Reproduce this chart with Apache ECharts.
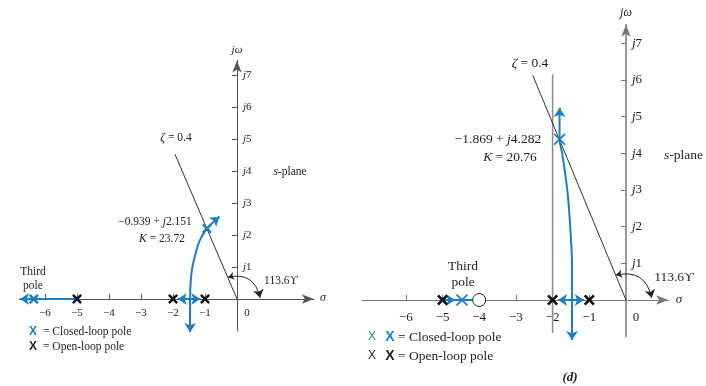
<!DOCTYPE html>
<html>
<head>
<meta charset="utf-8">
<script src="https://cdn.jsdelivr.net/npm/echarts@6/dist/echarts.min.js"></script>
<style>
  html, body { margin: 0; padding: 0; background: #fff; }
  #main { width: 706px; height: 386px; }
</style>
</head>
<body>
<div id="main"></div>
<script>
// ---- data (s-plane units) ----
const xTicks = [-6, -5, -4, -3, -2, -1]
const xLabels = [-6, -5, -4, -3, -2, -1, 0]
const yTicks = [1, 2, 3, 4, 5, 6, 7]

// left plot: poles at -1, -2, -5
const leftOpenPoles = [[-5, 0], [-2, 0], [-1, 0]]
const leftClosedPoles = [[-6.35, 0], [-0.94, 2.2]]
const leftZeta = [[0, 0], [-1.94, 4.53]]
const leftUpper = [[-1.465, 0], [-1.46, 0.3], [-1.41, 0.9], [-1.3, 1.4], [-1.16, 1.84], [-0.94, 2.2], [-0.72, 2.42], [-0.55, 2.57]]
const leftRealAxis = [[-1.85, 0], [-1.15, 0]]
const leftArrows = [
  [[-0.6, 2.53], [-0.55, 2.57]],
  [[-1.465, 0], [-1.465, -1.03]],
  [[-5, 0], [-6.78, 0]],
  [[-1.465, 0], [-1.85, 0]],
  [[-1.465, 0], [-1.15, 0]]
]
const leftAngle = [[-0.28, 0.68], [0.72, 0.04]]

// right plot: poles at -1, -2, -5, zero at -4
const rightOpenPoles = [[-5, 0], [-2, 0], [-1, 0]]
const rightZeros = [[-4, 0]]
const rightClosedPoles = [[-4.47, 0], [-1.81, 4.38]]
const rightZeta = [[0, 0], [-2.54, 6.12]]
const rightAsymptote = [[-2, -0.9], [-2, 6.15]]
const rightUpper = [[-1.47, 0], [-1.47, 0.9], [-1.52, 2], [-1.6, 3], [-1.74, 4], [-1.81, 4.38], [-1.81, 5.23]]
const rightRealAxis = [[-5, 0], [-4.18, 0]]
const rightRealAxis2 = [[-1.85, 0], [-1.15, 0]]
const rightArrows = [
  [[-1.81, 5.1], [-1.81, 5.23]],
  [[-1.47, 0], [-1.47, -1.09]],
  [[-4.95, 0], [-4.66, 0]],
  [[-1.47, 0], [-1.85, 0]],
  [[-1.47, 0], [-1.15, 0]]
]
const rightAngle = [[-0.27, 0.68], [0.7, 0.06]]

// ---- look ----
const BLUE = '#1b7fc4'
const INK = '#222'
const SERIF = '"Liberation Serif", "DejaVu Serif", serif'
const SANS = '"Liberation Sans", Arial, sans-serif'
const XBOLD = 'path://M0,1.7L1.7,0L5,3.3L8.3,0L10,1.7L6.7,5L10,8.3L8.3,10L5,6.7L1.7,10L0,8.3L3.3,5Z'
const XTHIN = 'path://M0,1L1,0L5,4L9,0L10,1L6,5L10,9L9,10L5,6L1,10L0,9L4,5Z'

// grid geometry: origin pixel + px per unit
const plots = [
  { ox: 237, oy: 299, k: 32, xMin: -6.8, xMax: 2.4, yMin: -1, yMax: 7.45, font: 11, margin: 9, axis: '#555' },
  { ox: 626, oy: 300, k: 36.7, xMin: -7.2, xMax: 1.15, yMin: -1, yMax: 7.5, font: 13, margin: 11, axis: '#777' }
]

const grids = plots.map(p => ({
  left: p.ox + p.xMin * p.k,
  width: (p.xMax - p.xMin) * p.k,
  top: p.oy - p.yMax * p.k,
  height: (p.yMax - p.yMin) * p.k,
  outerBoundsMode: 'none'
}))

// axes are shifted onto the origin with offset so labels follow the line
const xAxes = plots.map((p, i) => ({
  type: 'value', gridIndex: i, min: p.xMin, max: p.xMax,
  position: 'bottom', offset: p.yMin * p.k,
  splitLine: { show: false },
  axisLine: { onZero: false, symbol: ['none', 'arrow'], symbolSize: [7, 12], lineStyle: { color: p.axis, width: 1 } },
  axisTick: { inside: true, length: 5, customValues: xTicks, lineStyle: { color: p.axis } },
  axisLabel: {
    customValues: xLabels, margin: p.margin, color: INK, fontFamily: SERIF, fontSize: p.font,
    formatter: v => v === 0 ? '{z|0}' : '\u2212' + Math.abs(v),
    rich: { z: { padding: [0, 0, 0, 20], color: INK, fontFamily: SERIF, fontSize: p.font } }
  }
}))

const yAxes = plots.map((p, i) => ({
  type: 'value', gridIndex: i, min: p.yMin, max: p.yMax,
  position: 'left', offset: p.xMin * p.k,
  splitLine: { show: false },
  axisLine: { onZero: false, symbol: ['none', 'arrow'], symbolSize: [7, 12], lineStyle: { color: p.axis, width: i ? 1.5 : 1 } },
  axisTick: { length: 5, customValues: yTicks, lineStyle: { color: p.axis } },
  axisLabel: {
    inside: true, customValues: yTicks, margin: 6, color: INK, fontFamily: SERIF, fontSize: p.font,
    formatter: v => '{i|j}' + v,
    rich: { i: { fontStyle: 'italic', color: INK, fontFamily: SERIF, fontSize: p.font } }
  }
}))

function line(i, data, color, width, smooth) {
  return {
    type: 'line', xAxisIndex: i, yAxisIndex: i, data: data, symbol: 'none', silent: true,
    smooth: smooth || false, clip: false, lineStyle: { color: color, width: width }, z: 3
  }
}
function arrows(i, pairs, color, width, size, curveness, both) {
  return {
    type: 'lines', coordinateSystem: 'cartesian2d', xAxisIndex: i, yAxisIndex: i, silent: true, clip: false,
    symbol: [both ? 'arrow' : 'none', 'arrow'], symbolSize: size,
    lineStyle: { color: color, width: width, opacity: 1, curveness: curveness || 0 },
    data: pairs.map(c => ({ coords: c })), z: 4
  }
}
function marks(i, data, symbol, size, color, extra) {
  return Object.assign({
    type: 'scatter', xAxisIndex: i, yAxisIndex: i, data: data, symbol: symbol, symbolSize: size,
    silent: true, clip: false, itemStyle: { color: color, opacity: 1 }, z: 5
  }, extra || {})
}

const series = [
  line(0, leftZeta, '#333', 1),
  line(0, leftRealAxis, BLUE, 2),
  line(0, leftUpper, BLUE, 2, 0.35),
  arrows(0, leftArrows, BLUE, 2, [7, 9]),
  arrows(0, [leftAngle], INK, 1, [6, 8], 0.5, true),
  marks(0, leftOpenPoles, XBOLD, 10, '#111'),
  marks(0, leftClosedPoles, XBOLD, 10, BLUE),

  line(1, rightAsymptote, '#8a8a8a', 1.5),
  line(1, rightZeta, '#333', 1),
  line(1, rightRealAxis, BLUE, 2),
  line(1, rightRealAxis2, BLUE, 2),
  line(1, rightUpper, BLUE, 2, 0.3),
  arrows(1, rightArrows, BLUE, 2, [7, 9]),
  arrows(1, [rightAngle], INK, 1, [6, 8], 0.5, true),
  marks(1, rightZeros, 'circle', 13, '#fff', { itemStyle: { color: '#fff', borderColor: INK, borderWidth: 1, opacity: 1 } }),
  marks(1, rightOpenPoles, XBOLD, 11, '#111'),
  marks(1, rightClosedPoles, XTHIN, 12, BLUE)
]

// ---- annotation text ----
function txt(x, y, text, size, extra) {
  const fill = (extra && extra.fill) || INK
  return {
    type: 'text', x: x, y: y, silent: true, z: 10,
    style: Object.assign({
      text: text, fontFamily: SERIF, fontSize: size, fill: fill,
      align: 'center', verticalAlign: 'middle',
      rich: {
        i: { fontStyle: 'italic', fontFamily: SERIF, fontSize: size, fill: fill },
        b: { fontStyle: 'italic', fontWeight: 'bold', fontFamily: SERIF, fontSize: size, fill: fill }
      }
    }, extra || {})
  }
}

const graphic = [
  // left
  txt(237, 50, '{i|j\u03c9}', 11),
  txt(323, 298, '{i|\u03c3}', 12),
  txt(176, 138, '{i|\u03b6} = 0.4', 11.5),
  txt(155, 222, '\u22120.939 + {i|j}2.151', 11.5),
  txt(162, 239, '{i|K} = 23.72', 11.5),
  txt(290, 172, '{i|s}-plane', 11.5),
  txt(281, 281, '113.6\u03d2', 11.5),
  txt(33, 272, 'Third', 11.5),
  txt(33, 286, 'pole', 11.5),
  txt(33, 332, 'X', 12, { fontFamily: SANS, fontWeight: 'bold', fill: BLUE }),
  txt(43, 332, '= Closed-loop pole', 11.5, { align: 'left' }),
  txt(33, 347, 'X', 12, { fontFamily: SANS, fontWeight: 'bold' }),
  txt(43, 347, '= Open-loop pole', 11.5, { align: 'left' }),
  // right
  txt(626, 13, '{i|j\u03c9}', 12),
  txt(679, 300, '{i|\u03c3}', 13),
  txt(530, 63, '{i|\u03b6} = 0.4', 13.5),
  txt(498, 139, '\u22121.869 + {i|j}4.282', 13.5),
  txt(510, 157, '{i|K} = 20.76', 13.5),
  txt(664, 155, '{i|s}-plane', 13.5, { align: 'left' }),
  txt(674, 277, '113.6\u03d2', 13.5),
  txt(463, 266, 'Third', 13.5),
  txt(463, 282, 'pole', 13.5),
  txt(372, 337, 'X', 12, { fontFamily: SANS, fill: BLUE }),
  txt(390, 337, 'X', 14, { fontFamily: SANS, fontWeight: 'bold', fill: BLUE }),
  txt(398, 337, '= Closed-loop pole', 13.5, { align: 'left' }),
  txt(372, 356, 'X', 12, { fontFamily: SANS }),
  txt(390, 356, 'X', 14, { fontFamily: SANS, fontWeight: 'bold' }),
  txt(398, 356, '= Open-loop pole', 13.5, { align: 'left' }),
  txt(570, 378, '{b|(d)}', 13)
]

const chart = echarts.init(document.getElementById('main'), null, { renderer: 'canvas' })
chart.setOption({
  animation: false,
  backgroundColor: '#fff',
  grid: grids,
  xAxis: xAxes,
  yAxis: yAxes,
  series: series,
  graphic: graphic
})
</script>
</body>
</html>
